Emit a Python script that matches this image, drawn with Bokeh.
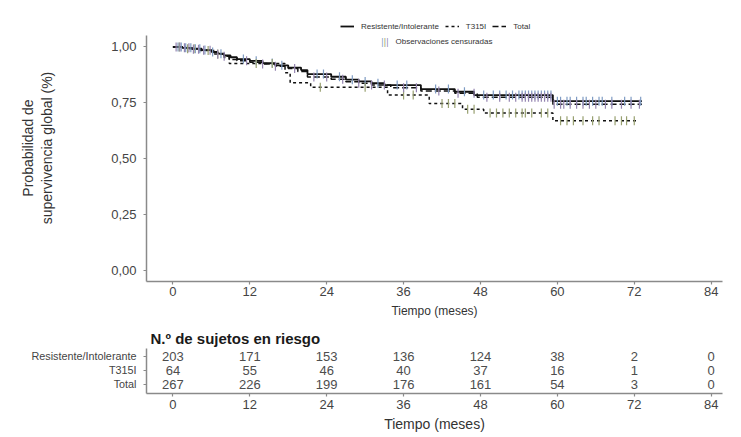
import numpy as np
from bokeh.plotting import figure
from bokeh.layouts import column
from bokeh.models import Range1d, FixedTicker, Legend, LegendItem, Label, ColumnDataSource
from bokeh.core.properties import value
from bokeh.embed import file_html
from bokeh.resources import INLINE

# ---------------- data ----------------
month_ticks = [0, 12, 24, 36, 48, 60, 72, 84]
surv_ticks = [0.0, 0.25, 0.5, 0.75, 1.0]
surv_tick_labels = ["0,00", "0,25", "0,50", "0,75", "1,00"]

res_time = [0, 1.5, 3, 4.5, 6, 7, 8, 9, 10, 12, 14, 16, 18, 20, 21, 24.7, 27, 29, 31, 33, 38.7, 44, 47, 59.3]
res_surv = [1.0, 0.996, 0.992, 0.986, 0.978, 0.97, 0.962, 0.954, 0.946, 0.938, 0.928, 0.918, 0.908, 0.897,
            0.879, 0.867, 0.854, 0.846, 0.838, 0.83, 0.812, 0.80, 0.785, 0.758]
res_last = 73.2
res_cens = [0.8, 1.3, 2, 2.8, 3.5, 4.2, 5, 6.2, 7.5, 11, 13, 15.5, 17, 22.5, 23.5, 26, 28, 30, 32, 35, 36.5,
            41, 43, 45.5, 48.5, 50, 51, 52, 53, 54, 54.5, 55, 55.5, 56, 56.5, 57, 57.5, 58, 58.5, 59, 60,
            60.5, 61.5, 62, 63, 64, 64.5, 65.5, 66.5, 67, 68.5, 70.5, 71.5, 73]

t315_time = [0, 2, 4, 6.5, 8, 8.8, 17.5, 18.3, 21.5, 33.5, 40, 45.2, 48.5, 59.3]
t315_surv = [1.0, 0.992, 0.984, 0.969, 0.953, 0.926, 0.885, 0.84, 0.82, 0.785, 0.747, 0.722, 0.705, 0.67]
t315_last = 72.7
t315_cens = [1, 2.3, 3.3, 5.5, 7, 13, 15.5, 23, 30, 36, 37.5, 42, 43, 44, 46, 47, 49.5, 50.5, 51.5, 52.5,
             53.5, 54.5, 55, 56, 57.5, 58.5, 60.5, 61.5, 62.5, 64, 65.5, 66.5, 69, 70, 70.8, 72]

tot_time = [0, 1.5, 3, 4.5, 6, 7, 8, 8.8, 10, 12, 14, 16, 18, 19.5, 21, 24.7, 27, 29, 31, 34, 38.7, 44, 47.5, 59.3]
tot_surv = [1.0, 0.996, 0.99, 0.985, 0.976, 0.968, 0.958, 0.944, 0.938, 0.932, 0.924, 0.914, 0.904, 0.89,
            0.866, 0.856, 0.845, 0.838, 0.83, 0.818, 0.803, 0.793, 0.776, 0.744]
tot_last = 73.2
tot_cens = [0.5, 1.1, 1.8, 2.5, 3.2, 4, 4.8, 5.8, 7, 8, 11.5, 14, 16, 19, 22, 24, 26.5, 29, 31, 33, 36, 38,
            41.5, 44.5, 47, 49, 51, 52.5, 53.5, 54.5, 55, 55.5, 56, 56.5, 57, 57.5, 58, 58.5, 59, 59.5,
            60.5, 61, 62, 63, 64, 65, 66, 67.5, 68.5, 70, 71.5, 72.8]

risk_groups = ["Resistente/Intolerante", "T315I", "Total"]
risk_res = [203, 171, 153, 136, 124, 38, 2, 0]
risk_t315 = [64, 55, 46, 40, 37, 16, 1, 0]
risk_tot = [267, 226, 199, 176, 161, 54, 3, 0]

# ---------------- style ----------------
FONT = "Liberation Sans"
AX_COL = "#8a8a8a"
TXT_COL = "#444444"
CENS_COLS = ["#7f9cc4", "#98a070", "#9484b0"]
X0, X1 = -4.12, 85.77


def style_axis(ax, size="13px"):
    ax.axis_line_color = AX_COL
    ax.axis_line_width = 1.5
    ax.major_tick_line_color = AX_COL
    ax.major_tick_line_width = 1.2
    ax.major_tick_out = 3
    ax.major_tick_in = 0
    ax.minor_tick_line_color = None
    ax.major_label_text_font = FONT
    ax.major_label_text_font_size = size
    ax.major_label_text_color = TXT_COL
    ax.axis_label_text_font = FONT
    ax.axis_label_text_font_style = "normal"
    ax.axis_label_text_color = "#333333"


# ---------------- main KM plot ----------------
p = figure(width=733, height=320, x_range=Range1d(X0, X1), y_range=Range1d(-0.0474, 1.145),
           output_backend="svg", toolbar_location=None,
           min_border_left=146, min_border_right=11, min_border_top=14, min_border_bottom=37)
p.outline_line_color = None
p.grid.visible = False
p.background_fill_color = "white"

style_axis(p.xaxis[0])
p.xaxis.ticker = FixedTicker(ticks=month_ticks)
p.xaxis.major_label_standoff = 2
p.xaxis.axis_label = "Tiempo (meses)"
p.xaxis.axis_label_text_font_size = "12px"
p.xaxis.axis_label_standoff = 5

style_axis(p.yaxis[0])
p.yaxis.ticker = FixedTicker(ticks=surv_ticks)
p.yaxis.major_label_overrides = dict(zip(surv_ticks, surv_tick_labels))
p.yaxis.major_label_standoff = 7
p.yaxis.bounds = (-0.0474, 1.052)
p.yaxis.axis_label = "Probabilidad de\nsupervivencia global (%)"
p.yaxis.axis_label_text_font_size = "14px"
p.yaxis.axis_label_standoff = 53


def step_xy(times, surv, last):
    return list(times) + [last], list(surv) + [surv[-1]]


def surv_at(times, surv, tc):
    idx = np.searchsorted(np.array(times), np.array(tc), side="right") - 1
    return [surv[i] for i in idx]


rx, ry = step_xy(res_time, res_surv, res_last)
tx, ty = step_xy(t315_time, t315_surv, t315_last)
ox, oy = step_xy(tot_time, tot_surv, tot_last)

r_res = p.step(rx, ry, mode="after", line_color="#111111", line_width=1.8)
r_t = p.step(tx, ty, mode="after", line_color="#111111", line_width=1.5, line_dash="3 3")
r_tot = p.step(ox, oy, mode="after", line_color="#111111", line_width=1.5, line_dash="6 3")

for times, surv, cens, col in [(res_time, res_surv, res_cens, CENS_COLS[0]),
                               (t315_time, t315_surv, t315_cens, CENS_COLS[1]),
                               (tot_time, tot_surv, tot_cens, CENS_COLS[2])]:
    p.scatter(cens, surv_at(times, surv, cens), marker="dash", angle=np.pi / 2, size=9,
              line_color=col, line_width=1.2, fill_color=None)

legend = Legend(items=[LegendItem(label="Resistente/Intolerante", renderers=[r_res]),
                       LegendItem(label="T315I", renderers=[r_t]),
                       LegendItem(label="Total", renderers=[r_tot])],
                location=(194, 250), orientation="horizontal",
                glyph_width=14, glyph_height=10, label_height=10, label_standoff=7, spacing=6,
                padding=0, margin=0, border_line_color=None, background_fill_alpha=0,
                label_text_font=FONT, label_text_font_size="8px", label_text_color="#333333")
p.add_layout(legend)

for dx, col in zip([236, 238.5, 241], CENS_COLS):
    p.add_layout(Label(x=dx, y=240, x_units="screen", y_units="screen", text="|", text_color=col,
                       text_font=FONT, text_font_size="9px", text_align="center", text_baseline="middle"))
p.add_layout(Label(x=249, y=240, x_units="screen", y_units="screen", text="Observaciones censuradas",
                   text_color="#333333", text_font=FONT, text_font_size="8px",
                   text_align="left", text_baseline="middle"))

# ---------------- risk table ----------------
t = figure(width=733, height=114, x_range=Range1d(X0, X1), y_range=Range1d(0.357, 3.571),
           output_backend="svg", toolbar_location=None,
           min_border_left=146, min_border_right=11, min_border_top=28, min_border_bottom=41)
t.outline_line_color = None
t.grid.visible = False
t.title.text = "N.º de sujetos en riesgo"
t.title.align = "left"
t.title.offset = 4
t.title.standoff = 4
t.title.text_font = FONT
t.title.text_font_size = "15px"
t.title.text_font_style = "bold"
t.title.text_color = "#1a1a1a"

style_axis(t.xaxis[0])
t.xaxis.ticker = FixedTicker(ticks=month_ticks)
t.xaxis.major_label_standoff = 3
t.xaxis.axis_label = "Tiempo (meses)"
t.xaxis.axis_label_text_font_size = "14px"
t.xaxis.axis_label_standoff = 4

style_axis(t.yaxis[0])
row_pos = [3, 2, 1]
t.yaxis.ticker = FixedTicker(ticks=row_pos)
t.yaxis.major_label_overrides = dict(zip(row_pos, risk_groups))
t.yaxis.major_label_text_font_size = "10.8px"
t.yaxis.major_label_standoff = 7

xs, ys, txt = [], [], []
for pos, counts in zip(row_pos, [risk_res, risk_t315, risk_tot]):
    for m, c in zip(month_ticks, counts):
        xs.append(m)
        ys.append(pos)
        txt.append(str(c))
src = ColumnDataSource(dict(x=xs, y=ys, text=txt))
t.text(x="x", y="y", text="text", source=src, text_align="center", text_baseline="middle",
       text_font=value(FONT), text_font_size="13px", text_color="#4d4d4d")

layout = column(p, t)
open("out.html", "w").write(file_html(layout, INLINE))
